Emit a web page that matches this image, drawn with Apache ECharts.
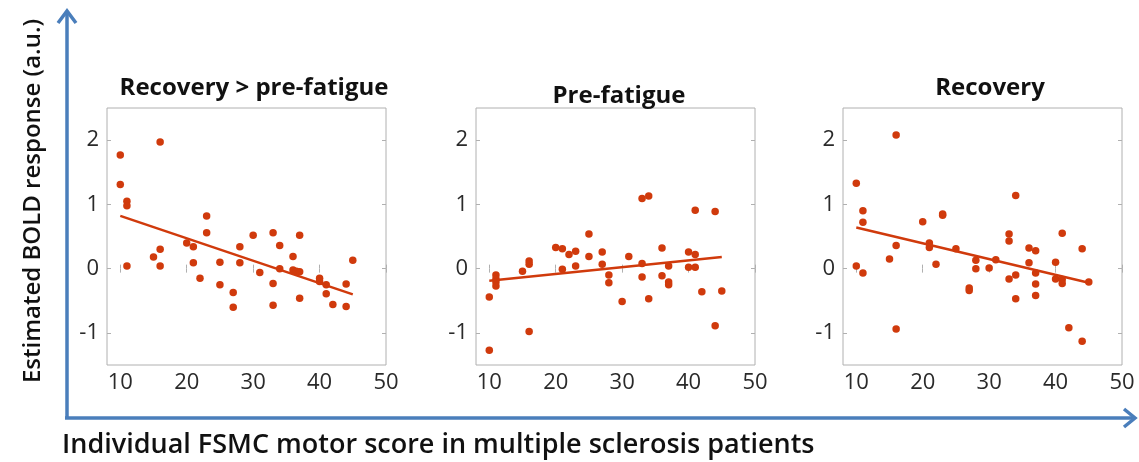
<!DOCTYPE html>
<html>
<head>
  <meta charset="UTF-8">
  <title>FSMC motor score vs BOLD response</title>
  <style>
    html, body { margin: 0; padding: 0; background: #fff; }
    #chart { width: 1139px; height: 462px; }
  </style>
  <script src="https://cdn.jsdelivr.net/npm/echarts@6/dist/echarts.min.js"></script>
</head>
<body>
  <div id="chart"></div>
  <script>
    // panel titles
    var panelTitles = ['Recovery > pre-fatigue', 'Pre-fatigue', 'Recovery'];
    var xTicks = [10, 20, 30, 40, 50];
    var yTicks = [-1, 0, 1, 2];

    // Recovery > pre-fatigue
    var recDiffX = [10, 10, 11, 11, 11, 15, 16, 16, 16, 20, 21, 21, 22, 23, 23, 25, 25, 27, 27, 28, 28, 30, 31,
      33, 33, 33, 34, 34, 36, 36, 36.5, 37, 37, 37, 40, 40, 41, 41, 42, 44, 44, 45];
    var recDiffY = [1.77, 1.31, 1.05, 0.98, 0.04, 0.18, 1.97, 0.30, 0.04, 0.40, 0.34, 0.09, -0.15, 0.82, 0.56, 0.10, -0.25, -0.37, -0.60, 0.34, 0.09, 0.52, -0.06,
      0.56, -0.23, -0.57, 0.36, 0.0, 0.19, -0.02, -0.04, 0.52, -0.05, -0.46, -0.15, -0.20, -0.25, -0.39, -0.56, -0.24, -0.59, 0.13];
    var recDiffFitX = [10, 45];
    var recDiffFitY = [0.82, -0.40];

    // Pre-fatigue
    var preX = [10, 10, 11, 11, 11, 11, 15, 16, 16, 16, 20, 21, 21, 22, 23, 23, 25, 25, 27, 27, 28, 28, 30, 31,
      33, 33, 33, 34, 34, 36, 36, 37, 37, 37, 40, 40, 41, 41, 41, 42, 44, 44, 45];
    var preY = [-0.44, -1.27, -0.10, -0.16, -0.21, -0.27, -0.04, 0.12, 0.07, -0.98, 0.33, 0.31, -0.01, 0.22, 0.27, 0.04, 0.54, 0.19, 0.26, 0.07, -0.10, -0.22, -0.51, 0.19,
      1.09, 0.08, -0.13, 1.13, -0.47, 0.32, -0.11, 0.04, -0.21, -0.25, 0.26, 0.02, 0.91, 0.22, 0.02, -0.36, 0.89, -0.89, -0.35];
    var preFitX = [10, 45];
    var preFitY = [-0.19, 0.18];

    // Recovery
    var recX = [10, 10, 11, 11, 11, 15, 16, 16, 16, 20, 21, 21, 22, 23, 23, 25, 27, 27, 28, 28, 30, 31,
      33, 33, 33, 34, 34, 34, 36, 36, 37, 37, 37, 37, 40, 40, 41, 41, 41, 42, 44, 44, 45];
    var recY = [1.33, 0.04, 0.90, 0.72, -0.07, 0.15, 2.08, 0.36, -0.94, 0.73, 0.40, 0.33, 0.07, 0.85, 0.83, 0.31, -0.30, -0.34, 0.13, 0.0, 0.01, 0.14,
      0.54, 0.43, -0.16, 1.14, -0.10, -0.47, 0.32, 0.09, 0.28, -0.07, -0.24, -0.42, 0.10, -0.16, 0.55, -0.17, -0.23, -0.92, 0.31, -1.13, -0.21];
    var recFitX = [10, 45];
    var recFitY = [0.64, -0.22];

    var panels = [
      [recDiffX, recDiffY, recDiffFitX, recDiffFitY],
      [preX, preY, preFitX, preFitY],
      [recX, recY, recFitX, recFitY]
    ];

    function zip(a, b) {
      return a.map(function (v, i) { return [v, b[i]]; });
    }

    var dotColor = '#d03a0c';
    var arrowColor = '#4a7ebb';
    var boxColor = '#b0b0b0';
    var gridLefts = [107, 476, 843];
    var gridW = 279;

    var option = {
      animation: false,
      title: [],
      grid: [],
      xAxis: [],
      yAxis: [],
      series: [],
      graphic: []
    };

    var titleCenters = [249, 614, 985];
    var titleTops = [71, 79, 71];

    panels.forEach(function (p, i) {
      option.title.push({
        text: panelTitles[i],
        left: titleCenters[i],
        top: titleTops[i],
        textAlign: 'center',
        textStyle: { fontFamily: 'Open Sans', fontWeight: 'bold', fontSize: 24, color: '#111' }
      });
      option.grid.push({
        left: gridLefts[i], width: gridW, top: 108, bottom: 97,
        show: true, borderColor: boxColor, borderWidth: 1, backgroundColor: '#fff'
      });
      // bottom / left axes with labels
      option.xAxis.push({
        type: 'value', gridIndex: i, min: 8, max: 50,
        axisLine: { show: false },
        splitLine: { show: false },
        axisTick: { inside: true, length: 4, customValues: xTicks, lineStyle: { color: boxColor } },
        axisLabel: { customValues: xTicks, fontFamily: 'Open Sans', fontSize: 22, color: '#2a2a2a', margin: 7 }
      });
      option.yAxis.push({
        type: 'value', gridIndex: i, min: -1.5, max: 2.5,
        axisLine: { show: false },
        splitLine: { show: false },
        axisTick: { show: true, inside: true, length: 4, customValues: yTicks, lineStyle: { color: boxColor } },
        axisLabel: { customValues: yTicks, fontFamily: 'Open Sans', fontSize: 22, color: '#2a2a2a', margin: 8 }
      });
    });
    // top / right axes: ticks only (box style)
    panels.forEach(function (p, i) {
      option.xAxis.push({
        type: 'value', gridIndex: i, min: 8, max: 50, position: 'top',
        axisLine: { show: false }, splitLine: { show: false }, axisLabel: { show: false },
        axisTick: { inside: true, length: 4, customValues: xTicks, lineStyle: { color: boxColor } }
      });
      option.yAxis.push({
        type: 'value', gridIndex: i, min: -1.5, max: 2.5, position: 'right',
        axisLine: { show: false }, splitLine: { show: false }, axisLabel: { show: false },
        axisTick: { show: true, inside: true, length: 4, customValues: yTicks, lineStyle: { color: boxColor } }
      });
    });
    panels.forEach(function (p, i) {
      option.series.push({
        type: 'scatter', xAxisIndex: i, yAxisIndex: i,
        symbolSize: 7.5,
        itemStyle: { color: dotColor, opacity: 1 },
        data: zip(p[0], p[1])
      });
      option.series.push({
        type: 'line', xAxisIndex: i, yAxisIndex: i,
        showSymbol: false,
        lineStyle: { color: dotColor, width: 2.5 },
        data: zip(p[2], p[3])
      });
    });

    // big axis arrows of the figure
    option.graphic = [
      {
        type: 'line', shape: { x1: 67, y1: 418, x2: 67, y2: 13 },
        style: { stroke: arrowColor, lineWidth: 3.5 }
      },
      {
        type: 'polyline', shape: { points: [[58, 23], [67, 11], [76, 23]] },
        style: { stroke: arrowColor, lineWidth: 3.5, fill: null }
      },
      {
        type: 'line', shape: { x1: 65, y1: 418, x2: 1133, y2: 418 },
        style: { stroke: arrowColor, lineWidth: 3.5 }
      },
      {
        type: 'polyline', shape: { points: [[1124, 409], [1135, 418], [1124, 427]] },
        style: { stroke: arrowColor, lineWidth: 3.5, fill: null }
      },
      {
        type: 'text', x: 33, y: 201, rotation: Math.PI / 2,
        style: {
          text: 'Estimated BOLD response (a.u.)',
          font: '600 24px "Open Sans"', fill: '#111',
          textAlign: 'center', textVerticalAlign: 'middle'
        }
      },
      {
        type: 'text', x: 62, y: 445,
        style: {
          text: 'Individual FSMC motor score in multiple sclerosis patients',
          font: '600 27px "Open Sans"', fill: '#111',
          textAlign: 'left', textVerticalAlign: 'middle'
        }
      }
    ];

    var chart = echarts.init(document.getElementById('chart'));
    chart.setOption(option);
  </script>
</body>
</html>
